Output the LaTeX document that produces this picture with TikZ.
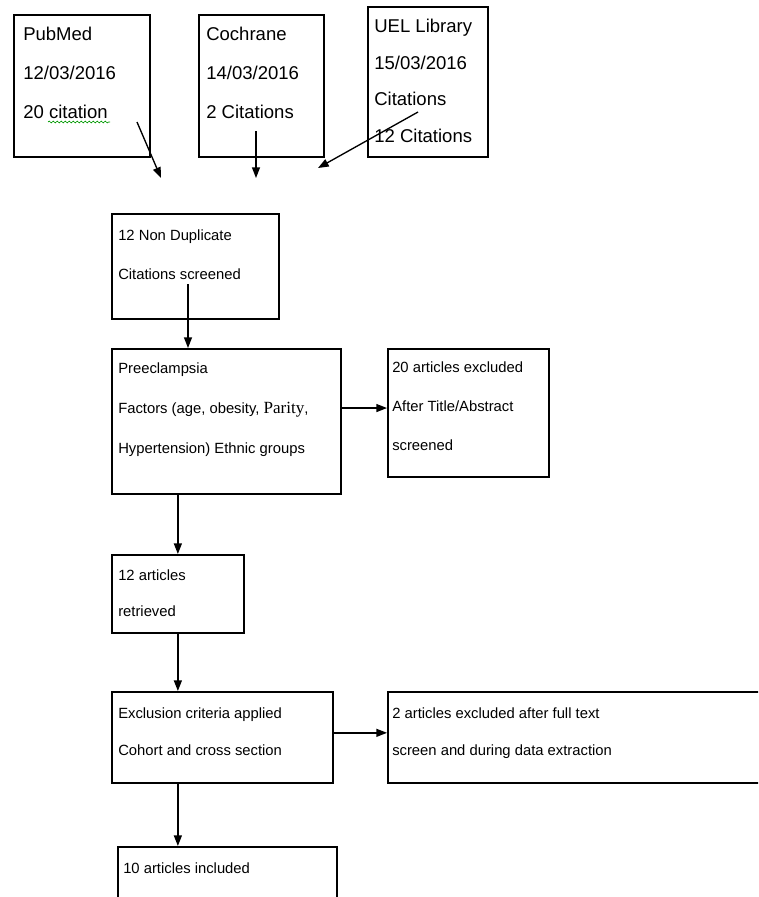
\documentclass[tikz,border=0pt]{standalone}
\usepackage{fontspec}
\setmainfont{Liberation Sans}
\newfontfamily\serifword{Liberation Serif}
\usetikzlibrary{arrows.meta,decorations.pathmorphing}

\tikzset{
  box/.style={draw, line width=1.3pt, anchor=north west, inner sep=0pt},
  srctext/.style={anchor=base west, align=left, inner sep=0pt,
    font=\fontsize{13.9}{28.9}\selectfont},
  flowtext/.style={anchor=base west, align=left, inner sep=0pt,
    font=\fontsize{11.1}{29}\selectfont},
  arr/.style={line width=1pt, -{Triangle[length=8pt,width=6pt]}}
}

\begin{document}
\begin{tikzpicture}[x=0.75pt,y=-0.75pt]
  \clip (0,0) rectangle (758,897);

  % sources (text nodes sit on the baseline of their last line)
  \node [box, minimum width=102pt, minimum height=106.5pt] (pubmed) at (13,14) {};
  \node [srctext] (pubmedtxt) at (23,118) {PubMed\\12/03/2016\\20 citation};
  \draw [green!60!black, line width=0.5pt, decorate,
         decoration={snake, amplitude=0.7pt, segment length=3pt}] (48,122) -- (110,122);
  \node [box, minimum width=93.75pt, minimum height=106.5pt] (cochrane) at (198,14) {};
  \node [srctext] (cochranetxt) at (206,118) {Cochrane\\14/03/2016\\2 Citations};
  \node [box, minimum width=90pt, minimum height=112.5pt] (uel) at (367,6) {};
  \node [srctext, font=\fontsize{13.9}{27.3}\selectfont] (ueltxt) at (374,142)
      {UEL Library\\15/03/2016\\Citations\\12 Citations};

  \coordinate (pubmedout) at (137,122);
  \coordinate (pubmedend) at (161,178);
  \coordinate (cochraneout) at (256,131);
  \coordinate (cochraneend) at (256,178);
  \coordinate (uelout) at (418,112);
  \coordinate (uelend) at (318,168);
  \draw [arr] (pubmedout) -- (pubmedend);
  \draw [arr] (cochraneout) -- (cochraneend);
  \draw [arr] (uelout) -- (uelend);

  % screening
  \node [box, minimum width=125.25pt, minimum height=78.75pt] (nondup) at (111,213) {};
  \node [flowtext, font=\fontsize{11.1}{29.25}\selectfont] (nonduptxt) at (118,279)
      {12 Non Duplicate\\Citations screened};
  \node [box, minimum width=171.75pt, minimum height=108.75pt] (pre) at (111,348) {};
  \node [flowtext, font=\fontsize{11.1}{30}\selectfont] (pretxt) at (118,453)
      {Preeclampsia\\Factors (age, obesity, {\serifword\fontsize{12.8}{30}\selectfont Parity},\\Hypertension) Ethnic groups};
  \node [box, minimum width=120.75pt, minimum height=96pt] (excl) at (387,348) {};
  \node [flowtext, font=\fontsize{11.1}{28.9}\selectfont] (excltxt) at (392,450)
      {20 articles excluded\\After Title/Abstract\\screened};

  \coordinate (nondupout) at (188,284);
  \draw [arr] (nondupout) -- (nondupout |- pre.north);
  \draw [arr] ([yshift=10pt]pre.east) -- ([yshift=10pt]pre.east -| excl.west);

  % retrieval
  \node [box, minimum width=99pt, minimum height=58.5pt] (retr) at (111,554) {};
  \node [flowtext, font=\fontsize{11.1}{27}\selectfont] (retrtxt) at (118,616)
      {12 articles\\retrieved};
  \node [box, minimum width=165.75pt, minimum height=68.25pt] (crit) at (111,691) {};
  \node [flowtext, font=\fontsize{11.1}{27.75}\selectfont] (crittxt) at (118,755)
      {Exclusion criteria applied\\Cohort and cross section};
  \node [box, minimum width=294.75pt, minimum height=68.25pt] (fulltext) at (387,691) {};
  \node [flowtext, font=\fontsize{11.1}{27.75}\selectfont] (fulltexttxt) at (392,755)
      {2 articles excluded after full text\\screen and during data extraction};
  \node [box, minimum width=164.25pt, minimum height=55.5pt] (incl) at (117,846) {};
  \node [flowtext] (incltxt) at (123,873) {10 articles included};

  \draw [arr] (retr.north |- pre.south) -- (retr.north);
  \draw [arr] (retr.south) -- (retr.south |- crit.north);
  \draw [arr] ([yshift=3.4pt]crit.east) -- ([yshift=3.4pt]crit.east -| fulltext.west);
  \draw [arr] (retr.south |- crit.south) -- (retr.south |- incl.north);
\end{tikzpicture}
\end{document}
